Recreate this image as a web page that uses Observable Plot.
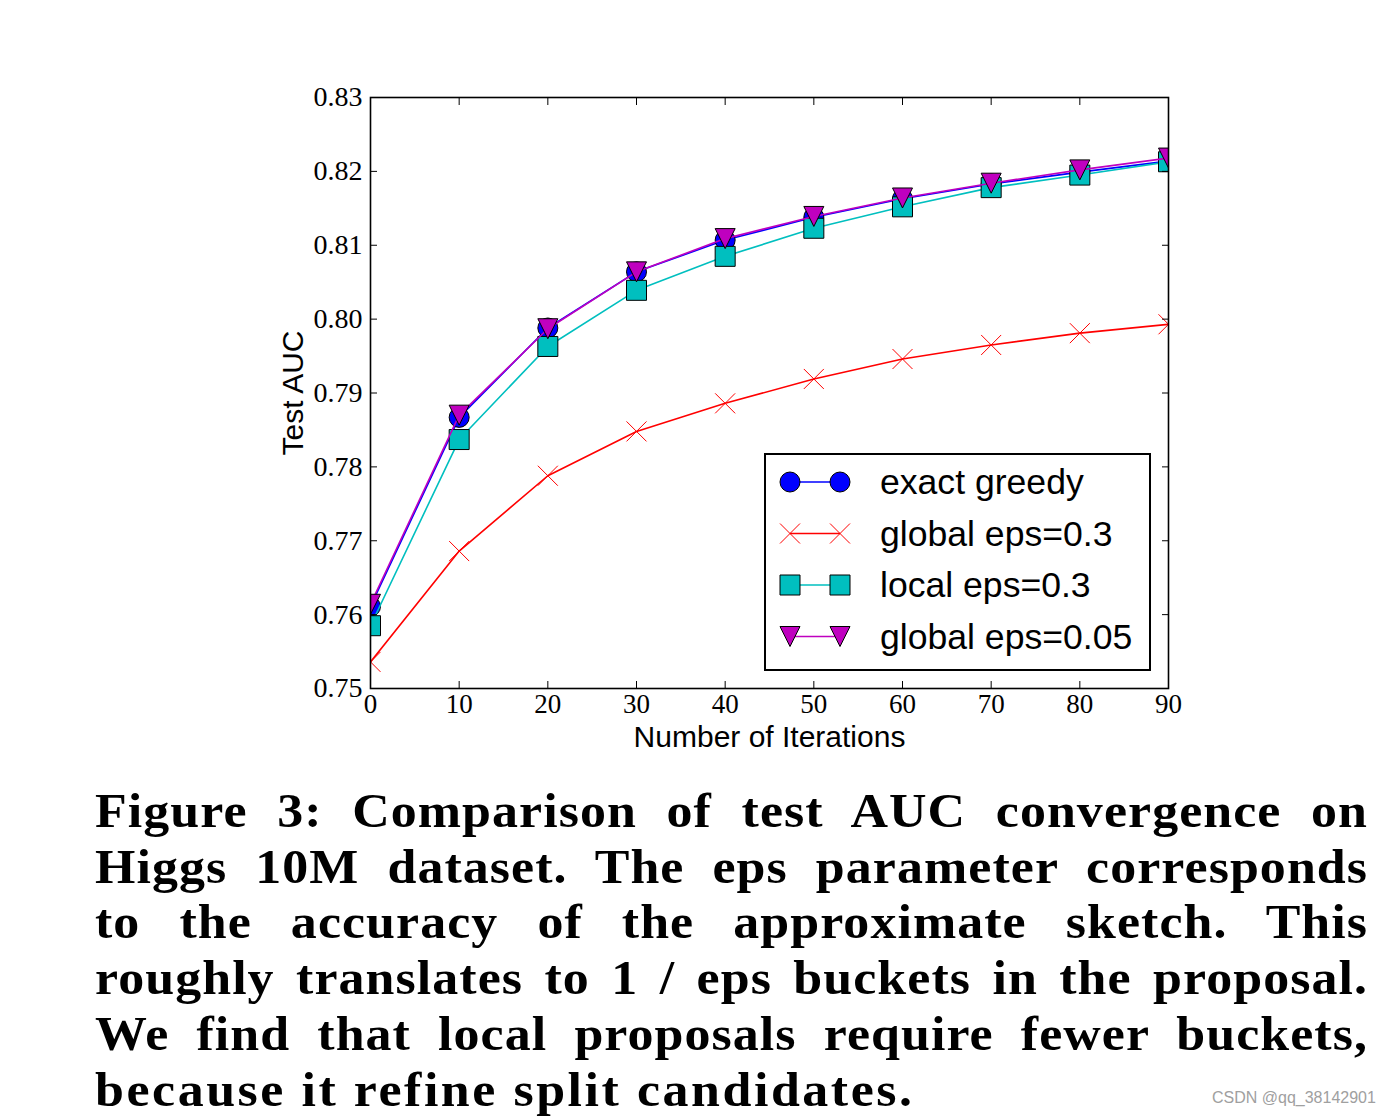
<!DOCTYPE html>
<html><head><meta charset="utf-8">
<script src="https://cdn.jsdelivr.net/npm/d3@7"></script>
<script src="https://cdn.jsdelivr.net/npm/@observablehq/plot@0.6"></script>
<style>
body{margin:0;background:#fff;}
#wrap{position:relative;width:1396px;height:1118px;overflow:hidden;background:#fff;}
#chart svg{display:block;}
#legend{position:absolute;left:0;top:0;pointer-events:none;}
#caption{position:absolute;left:95px;top:783px;width:1201px;transform:scaleX(1.06);transform-origin:0 0;font-family:"Liberation Serif",serif;font-weight:bold;font-size:49px;line-height:55.7px;color:#000;letter-spacing:1px;}
#caption div{text-align:justify;text-align-last:justify;white-space:nowrap;}
#caption div.last{text-align:left;text-align-last:left;letter-spacing:2.4px;}
#wm{position:absolute;left:1212px;top:1089px;font-family:"Liberation Sans",sans-serif;font-size:16px;color:#a0a0a0;white-space:nowrap;}
</style>
</head><body>
<div id="wrap">
  <div id="chart"></div>
  <div id="caption"></div>
  <div id="wm">CSDN @qq_38142901</div>
</div>
<script>
// ---- data ----
const iterations = [0, 10, 20, 30, 40, 50, 60, 70, 80, 90];
const exactGreedy = [0.7611, 0.7867, 0.7988, 0.8064, 0.8107, 0.8138, 0.8163, 0.8183, 0.8199, 0.8214];
const global03   = [0.7536, 0.7686, 0.7788, 0.7848, 0.7886, 0.7919, 0.7946, 0.7965, 0.7981, 0.7993];
const local03    = [0.7585, 0.7837, 0.7963, 0.8039, 0.8085, 0.8123, 0.8152, 0.8178, 0.8195, 0.8213];
const global005  = [0.7614, 0.7870, 0.7987, 0.8064, 0.8109, 0.8139, 0.8164, 0.8184, 0.8202, 0.8218];
const seriesNames = ["exact greedy", "global eps=0.3", "local eps=0.3", "global eps=0.05"];
const xTicks = [0, 10, 20, 30, 40, 50, 60, 70, 80, 90];
const yTicks = [0.75, 0.76, 0.77, 0.78, 0.79, 0.80, 0.81, 0.82, 0.83];
const captionLines = [
  "Figure 3: Comparison of test AUC convergence on",
  "Higgs 10M dataset. The eps parameter corresponds",
  "to the accuracy of the approximate sketch.  This",
  "roughly translates to 1 / eps buckets in the proposal.",
  "We find that local proposals require fewer buckets,",
  "because it refine split candidates."
];

// ---- marker symbols (matplotlib-like) ----
const rad = s => Math.sqrt(s / Math.PI);
const symCircle = {draw(ctx, s){const r = rad(s); ctx.moveTo(r, 0); ctx.arc(0, 0, r, 0, 2 * Math.PI);}};
const symSquare = {draw(ctx, s){const r = rad(s); ctx.rect(-r, -r, 2 * r, 2 * r);}};
const symTriDown = {draw(ctx, s){const r = rad(s); ctx.moveTo(0, r); ctx.lineTo(-r, -r); ctx.lineTo(r, -r); ctx.closePath();}};
const symX = {draw(ctx, s){const r = rad(s); ctx.moveTo(-r, -r); ctx.lineTo(r, r); ctx.moveTo(-r, r); ctx.lineTo(r, -r);}};

const styles = [
  {values: exactGreedy, color: "#0000ff", symbol: symCircle, fill: "#0000ff", stroke: "#000"},
  {values: global03, color: "#ff0000", symbol: symX, fill: "none", stroke: "#ff0000"},
  {values: local03, color: "#00bfbf", symbol: symSquare, fill: "#00bfbf", stroke: "#000"},
  {values: global005, color: "#bf00bf", symbol: symTriDown, fill: "#bf00bf", stroke: "#000"}
];

const marks = [];
styles.forEach((st, i) => {
  const rows = iterations.map((x, j) => ({series: seriesNames[i], x, y: st.values[j]}));
  marks.push(Plot.line(rows, {x: "x", y: "y", stroke: st.color, strokeWidth: 1.6, clip: true}));
  marks.push(Plot.dot(rows, {x: "x", y: "y", r: 10, symbol: st.symbol, fill: st.fill, stroke: st.stroke, strokeWidth: 1, clip: true}));
});

const chart = Plot.plot({
  width: 1396,
  height: 783,
  marginLeft: 370,
  marginRight: 228,
  marginTop: 97,
  marginBottom: 95,
  style: {fontFamily: "Liberation Serif", fontSize: "28px", color: "#000", background: "#fff"},
  x: {domain: [0, 90]},
  y: {domain: [0.75, 0.83]},
  marks: [
    ...marks,
    // labels
    Plot.axisY({anchor: "left", ticks: yTicks, tickFormat: d3.format(".2f"), tickSize: 0, tickPadding: 8, label: null, fontSize: 28}),
    Plot.axisX({anchor: "bottom", ticks: xTicks, tickFormat: d3.format("d"), tickSize: 0, tickPadding: 5, label: null, fontSize: 27}),
    // inward ticks on all four sides
    Plot.axisY({anchor: "left", ticks: yTicks, tickSize: 7, dx: 7, fill: "none", tickFormat: () => "", label: null, stroke: "#000"}),
    Plot.axisY({anchor: "right", ticks: yTicks, tickSize: 7, dx: -7, fill: "none", tickFormat: () => "", label: null, stroke: "#000"}),
    Plot.axisX({anchor: "bottom", ticks: xTicks, tickSize: 7, dy: -7, fill: "none", tickFormat: () => "", label: null, stroke: "#000"}),
    Plot.axisX({anchor: "top", ticks: xTicks, tickSize: 7, dy: 7, fill: "none", tickFormat: () => "", label: null, stroke: "#000"}),
    Plot.frame({stroke: "#000", strokeWidth: 1.6}),
    Plot.text(["Test AUC"], {text: d => d, frameAnchor: "left", rotate: -90, dx: -77, fontFamily: "Liberation Sans", fontSize: 30, textAnchor: "middle", lineAnchor: "middle", fill: "#000"}),
    Plot.text(["Number of Iterations"], {text: d => d, frameAnchor: "bottom", dy: 49, fontFamily: "Liberation Sans", fontSize: 30, textAnchor: "middle", lineAnchor: "middle", fill: "#000"})
  ]
});
document.getElementById("chart").appendChild(chart);

// ---- legend overlay ----
const lg = d3.select("#wrap").append("svg").attr("id", "legend").attr("width", 1396).attr("height", 783);
lg.append("rect").attr("x", 765).attr("y", 454).attr("width", 385).attr("height", 216)
  .attr("fill", "#fff").attr("stroke", "#000").attr("stroke-width", 2);
styles.forEach((st, i) => {
  const cy = 482 + i * 51.5;
  const g = lg.append("g");
  g.append("line").attr("x1", 790).attr("x2", 840).attr("y1", cy).attr("y2", cy).attr("stroke", st.color).attr("stroke-width", 1.6);
  [790, 840].forEach(cx => {
    g.append("path").attr("d", d3.symbol(st.symbol, Math.PI * 100)())
      .attr("transform", `translate(${cx},${cy})`)
      .attr("fill", st.fill).attr("stroke", st.stroke).attr("stroke-width", 1);
  });
  g.append("text").attr("x", 880).attr("y", cy).attr("dy", "0.35em")
    .attr("font-family", "Liberation Sans").attr("font-size", 35.6).attr("fill", "#000")
    .text(seriesNames[i]);
});

// ---- caption ----
const cap = d3.select("#caption");
captionLines.forEach((t, i) => {
  cap.append("div").attr("class", i === captionLines.length - 1 ? "last" : null).text(t);
});
</script>
</body></html>
